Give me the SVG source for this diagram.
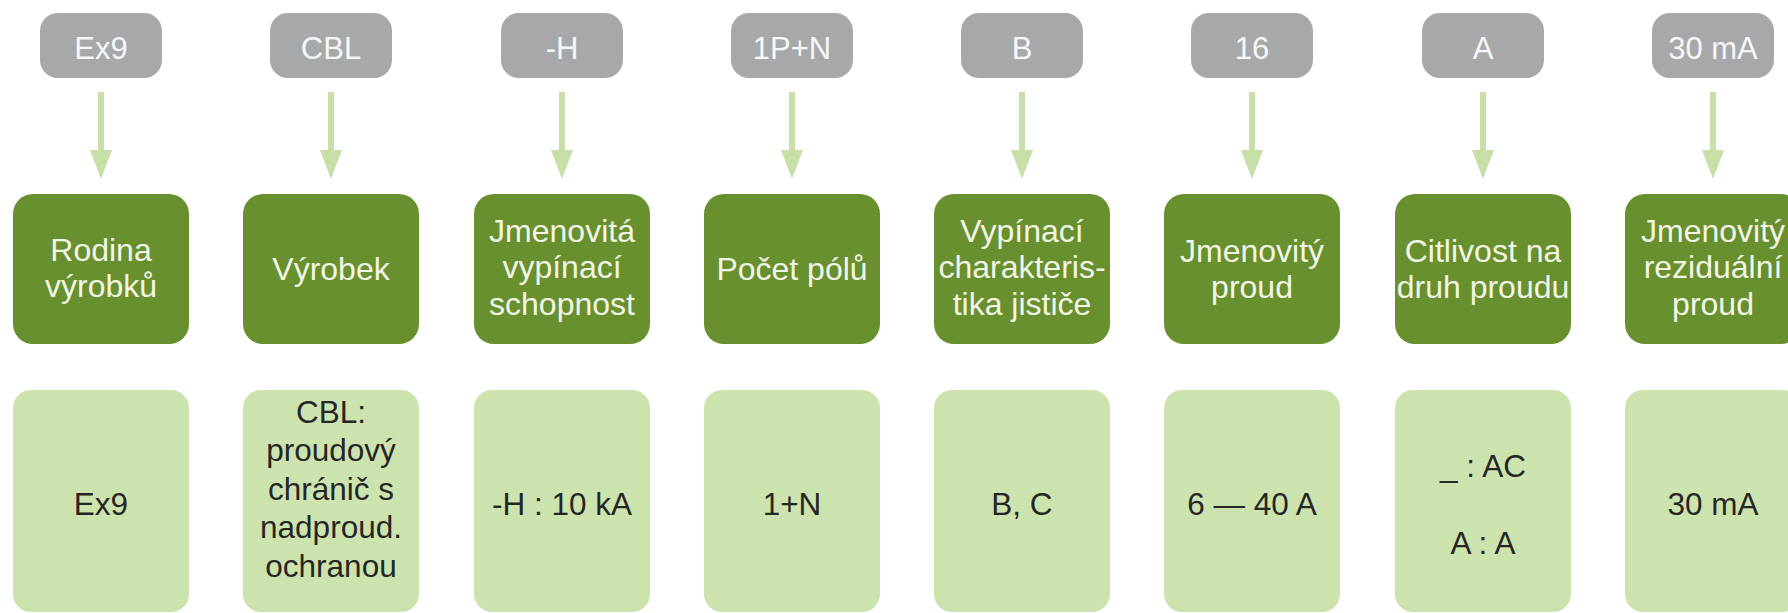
<svg xmlns="http://www.w3.org/2000/svg" width="1788" height="613" viewBox="0 0 1788 613">
<defs>
<style>
.code{fill:#a7a8aa}
.cat{fill:#68902f}
.val{fill:#cde3ae}
.tc{font-family:"Liberation Sans",Arial,sans-serif;font-size:31px;fill:#f7f7f7;text-anchor:middle}
.tk{font-family:"Liberation Sans",Arial,sans-serif;font-size:32px;fill:#f3f5e6;text-anchor:middle}
.tv{font-family:"Liberation Sans",Arial,sans-serif;font-size:31.5px;fill:#262626;text-anchor:middle}
.conn line{stroke:#c6e0a8;stroke-width:6}
.conn polygon{fill:#c6e0a8}
</style>
</defs>
<rect width="1788" height="613" fill="#ffffff"/>

<g id="connectors" class="conn">
<line x1="101" y1="92" x2="101" y2="152"/><polygon points="90,150 112,150 101,179"/>
<line x1="331" y1="92" x2="331" y2="152"/><polygon points="320,150 342,150 331,179"/>
<line x1="562" y1="92" x2="562" y2="152"/><polygon points="551,150 573,150 562,179"/>
<line x1="792" y1="92" x2="792" y2="152"/><polygon points="781,150 803,150 792,179"/>
<line x1="1022" y1="92" x2="1022" y2="152"/><polygon points="1011,150 1033,150 1022,179"/>
<line x1="1252" y1="92" x2="1252" y2="152"/><polygon points="1241,150 1263,150 1252,179"/>
<line x1="1483" y1="92" x2="1483" y2="152"/><polygon points="1472,150 1494,150 1483,179"/>
<line x1="1713" y1="92" x2="1713" y2="152"/><polygon points="1702,150 1724,150 1713,179"/>
</g>

<!-- column 1 -->
<g id="code-ex9"><rect class="code" x="40" y="13" width="122" height="65" rx="18"/><text class="tc" x="101" y="59">Ex9</text></g>
<g id="cat-rodina"><rect class="cat" x="13" y="194" width="176" height="150" rx="20"/><text class="tk" x="101" y="261">Rodina</text><text class="tk" x="101" y="297">výrobků</text></g>
<g id="val-ex9"><rect class="val" x="13" y="390" width="176" height="222" rx="18"/><text class="tv" x="101" y="515">Ex9</text></g>

<!-- column 2 -->
<g id="code-cbl"><rect class="code" x="270" y="13" width="122" height="65" rx="18"/><text class="tc" x="331" y="59">CBL</text></g>
<g id="cat-vyrobek"><rect class="cat" x="243" y="194" width="176" height="150" rx="20"/><text class="tk" x="331" y="280">Výrobek</text></g>
<g id="val-cbl"><rect class="val" x="243" y="390" width="176" height="222" rx="18"/>
<text class="tv" x="331" y="423">CBL:</text>
<text class="tv" x="331" y="461">proudový</text>
<text class="tv" x="331" y="500">chránič s</text>
<text class="tv" x="331" y="538">nadproud.</text>
<text class="tv" x="331" y="577">ochranou</text></g>

<!-- column 3 -->
<g id="code-h"><rect class="code" x="501" y="13" width="122" height="65" rx="18"/><text class="tc" x="562" y="59">-H</text></g>
<g id="cat-vypinaci-schopnost"><rect class="cat" x="474" y="194" width="176" height="150" rx="20"/><text class="tk" x="562" y="242">Jmenovitá</text><text class="tk" x="562" y="278">vypínací</text><text class="tk" x="562" y="315">schopnost</text></g>
<g id="val-h"><rect class="val" x="474" y="390" width="176" height="222" rx="18"/><text class="tv" x="562" y="515">-H : 10 kA</text></g>

<!-- column 4 -->
<g id="code-1pn"><rect class="code" x="731" y="13" width="122" height="65" rx="18"/><text class="tc" x="792" y="59">1P+N</text></g>
<g id="cat-pocet-polu"><rect class="cat" x="704" y="194" width="176" height="150" rx="20"/><text class="tk" x="792" y="280">Počet pólů</text></g>
<g id="val-1n"><rect class="val" x="704" y="390" width="176" height="222" rx="18"/><text class="tv" x="792" y="515">1+N</text></g>

<!-- column 5 -->
<g id="code-b"><rect class="code" x="961" y="13" width="122" height="65" rx="18"/><text class="tc" x="1022" y="59">B</text></g>
<g id="cat-charakteristika"><rect class="cat" x="934" y="194" width="176" height="150" rx="20"/><text class="tk" x="1022" y="242">Vypínací</text><text class="tk" x="1022" y="278">charakteris-</text><text class="tk" x="1022" y="315">tika jističe</text></g>
<g id="val-bc"><rect class="val" x="934" y="390" width="176" height="222" rx="18"/><text class="tv" x="1022" y="515">B, C</text></g>

<!-- column 6 -->
<g id="code-16"><rect class="code" x="1191" y="13" width="122" height="65" rx="18"/><text class="tc" x="1252" y="59">16</text></g>
<g id="cat-jmenovity-proud"><rect class="cat" x="1164" y="194" width="176" height="150" rx="20"/><text class="tk" x="1252" y="262">Jmenovitý</text><text class="tk" x="1252" y="298">proud</text></g>
<g id="val-6-40"><rect class="val" x="1164" y="390" width="176" height="222" rx="18"/><text class="tv" x="1252" y="515">6 — 40 A</text></g>

<!-- column 7 -->
<g id="code-a"><rect class="code" x="1422" y="13" width="122" height="65" rx="18"/><text class="tc" x="1483" y="59">A</text></g>
<g id="cat-citlivost"><rect class="cat" x="1395" y="194" width="176" height="150" rx="20"/><text class="tk" x="1483" y="262">Citlivost na</text><text class="tk" x="1483" y="298">druh proudu</text></g>
<g id="val-ac-a"><rect class="val" x="1395" y="390" width="176" height="222" rx="18"/><text class="tv" x="1483" y="477">_ : AC</text><text class="tv" x="1483" y="554">A : A</text></g>

<!-- column 8 -->
<g id="code-30ma"><rect class="code" x="1652" y="13" width="122" height="65" rx="18"/><text class="tc" x="1713" y="59">30 mA</text></g>
<g id="cat-rezidualni"><rect class="cat" x="1625" y="194" width="176" height="150" rx="20"/><text class="tk" x="1713" y="242">Jmenovitý</text><text class="tk" x="1713" y="278">reziduální</text><text class="tk" x="1713" y="315">proud</text></g>
<g id="val-30ma"><rect class="val" x="1625" y="390" width="176" height="222" rx="18"/><text class="tv" x="1713" y="515">30 mA</text></g>
</svg>
